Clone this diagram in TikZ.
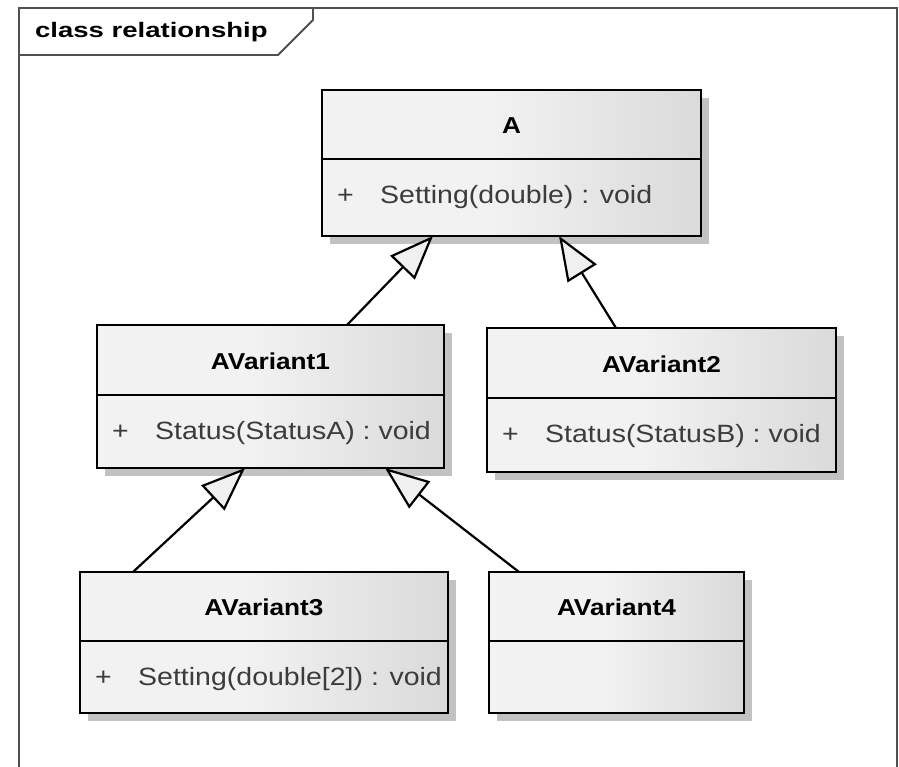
\documentclass[tikz,border=0pt]{standalone}
\usepackage{fontspec}
\setmainfont{Liberation Sans}
\usepackage{graphicx}
\usepackage{tikz}
\usetikzlibrary{arrows.meta}

\begin{document}
\begin{tikzpicture}[x=1pt, y=-1pt,
    classbox/.style={draw, line width=2.8pt, shade, shading=classgrad,
        inner sep=0, outer sep=0},
    classshade/.style={fill=shade-grey, inner sep=0, outer sep=0},
    classline/.style={line width=2.8pt},
    classname/.style={font=\fontsize{23}{27}\selectfont\bfseries,
        inner sep=0, anchor=base},
    classmember/.style={font=\fontsize{25}{29}\selectfont,
        text=member-grey, inner sep=0, anchor=base west},
    titletext/.style={font=\fontsize{21}{25}\selectfont\bfseries,
        inner sep=0, anchor=base west},
    inherits/.style={line width=2.2pt,
        -{Triangle[length=44pt, width=34pt, fill=head-grey]}},
    frameline/.style={line width=1.8pt, draw=frame-grey}]
    % Definitions
    \definecolor{box-light}{RGB}{242, 242, 242}
    \definecolor{box-dark}{RGB}{218, 218, 218}
    \definecolor{shade-grey}{RGB}{194, 194, 194}
    \definecolor{head-grey}{RGB}{240, 240, 240}
    \definecolor{member-grey}{RGB}{60, 60, 60}
    \definecolor{frame-grey}{RGB}{80, 80, 80}
    \pgfdeclarehorizontalshading{classgrad}{100bp}{color(0bp)=(box-light);
        color(25bp)=(box-light); color(47bp)=(box-light);
        color(75bp)=(box-dark); color(100bp)=(box-dark)}

    \newcommand{\widetext}[1]{\scalebox{1.14}[1]{#1}}

    % #1 name, #2 centre, #3 width, #4 height, #5 header height,
    % #6 title, #7 visibility, #8 operation
    \newcommand{\umlclass}[8]{
        \node[classshade, minimum width=#3pt, minimum height=#4pt,
              xshift=8pt, yshift=-8pt] at (#2) {};
        \node[classbox, minimum width=#3pt, minimum height=#4pt]
            (#1) at (#2) {};
        \draw[classline] ([yshift=-#5]#1.north west)
            -- ([yshift=-#5]#1.north east);
        \node[classname, yshift=-#5/2-9] (#1-name) at (#1.north)
            {\widetext{#6}};
        \if\relax\detokenize{#8}\relax\else
            \node[classmember] (#1-vis)
                at ([xshift=15pt, yshift=-#5-44.5]#1.north west)
                {\widetext{#7}};
            \node[classmember] (#1-op)
                at ([xshift=58pt, yshift=-#5-44.5]#1.north west)
                {\widetext{#8}};
        \fi
    }

    \useasboundingbox (0,0) rectangle (899,767);

    % Frame
    \draw[frameline] (19,767) -- (19,8) -- (897,8) -- (897,767);
    \draw[frameline] (313,8) -- (313,20) -- (278,55) -- (19,55);
    \node[titletext] (title) at (35,37.5)
        {\scalebox{1.31}[1]{class relationship}};

    % Classes
    \umlclass{a}{511.5,163}{379}{146}{69}{A}{+}{Setting(double) : void}
    \umlclass{av1}{270.5,396.5}{347}{143}{70}{AVariant1}{+}{Status(StatusA) : void}
    \umlclass{av2}{661.5,400}{349}{144}{70}{AVariant2}{+}{Status(StatusB) : void}
    \umlclass{av3}{264,642.5}{368}{141}{69}{AVariant3}{+}{Setting(double[2]) : void}
    \umlclass{av4}{616.5,642.5}{255}{141}{69}{AVariant4}{}{}

    % Generalisations
    \draw[inherits] ([xshift=76.5pt]av1.north) -- ([xshift=-78.5pt]a.south);
    \draw[inherits] ([xshift=-45.5pt]av2.north) -- ([xshift=47.5pt]a.south);
    \draw[inherits] ([xshift=-131pt]av3.north) -- ([xshift=-25.5pt]av1.south);
    \draw[inherits] ([xshift=-97.5pt]av4.north) -- ([xshift=114.5pt]av1.south);
\end{tikzpicture}
\end{document}
